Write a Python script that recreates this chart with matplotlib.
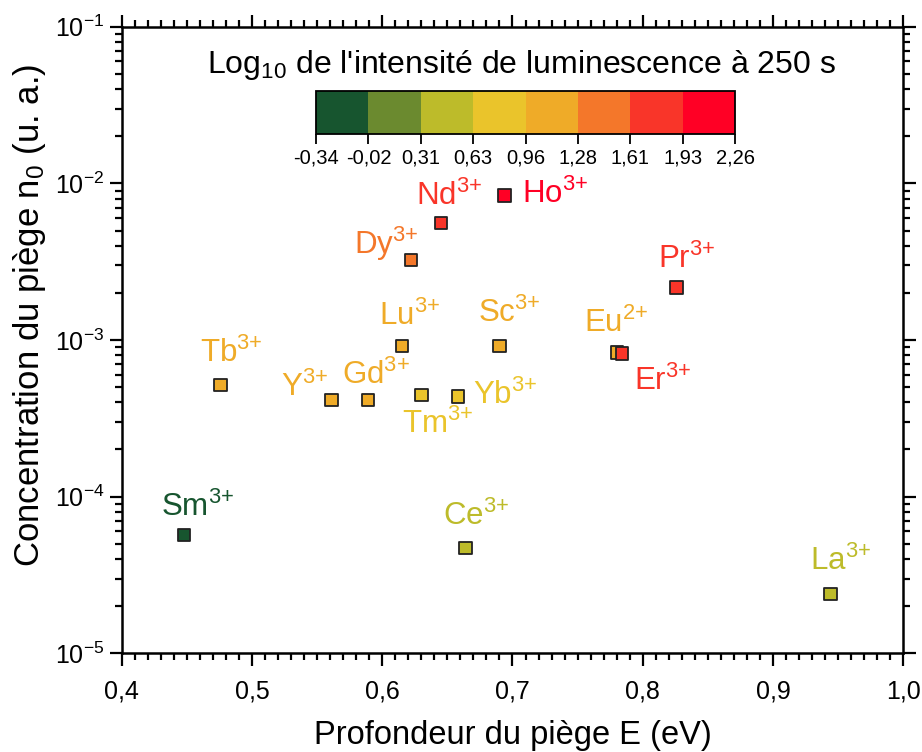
import matplotlib
matplotlib.use("Agg")
import matplotlib.pyplot as plt
from matplotlib.colors import ListedColormap, BoundaryNorm
from matplotlib.cm import ScalarMappable
from matplotlib.ticker import FuncFormatter, LogLocator, MultipleLocator, NullFormatter

plt.rcParams['font.family'] = ['Liberation Sans', 'DejaVu Sans']
plt.rcParams['mathtext.fontset'] = 'custom'
plt.rcParams['mathtext.rm'] = 'Liberation Sans'
plt.rcParams['mathtext.it'] = 'Liberation Sans:italic'
plt.rcParams['mathtext.bf'] = 'Liberation Sans:bold'

# ---- data ----
ions = ['Sm', 'Ce', 'La', 'Tb', 'Y', 'Gd', 'Tm', 'Yb', 'Lu', 'Sc',
        'Dy', 'Nd', 'Ho', 'Pr', 'Eu', 'Er']
charges = ['3+', '3+', '3+', '3+', '3+', '3+', '3+', '3+', '3+', '3+',
           '3+', '3+', '3+', '3+', '2+', '3+']
depth_eV = [0.448, 0.664, 0.944, 0.476, 0.561, 0.589, 0.630, 0.658, 0.615, 0.690,
            0.622, 0.645, 0.694, 0.826, 0.780, 0.784]
n0 = [5.69e-5, 4.72e-5, 2.40e-5, 5.14e-4, 4.14e-4, 4.14e-4, 4.44e-4, 4.35e-4, 9.16e-4, 9.16e-4,
      3.24e-3, 5.56e-3, 8.34e-3, 2.17e-3, 8.30e-4, 8.22e-4]
log_intensity = [-0.20, 0.45, 0.40, 1.10, 1.05, 1.15, 0.80, 0.75, 1.20, 1.10,
                 1.45, 1.75, 2.10, 1.70, 1.20, 1.80]
# label offsets (pixels) relative to marker: left edge, vertical centre
label_dx = [-23, -23, -20, -21, -50, -26, -19, 15, -23, -21, -57, -25, 17, -19, -33, 12]
label_dy = [28, 31, 32, 32, 13, 25, -29, 1, 30, 33, 16, 27, 1, 28, 29, -28]

cbar_levels = [-0.34, -0.02, 0.31, 0.63, 0.96, 1.28, 1.61, 1.93, 2.26]
cbar_colors = ['#17552f', '#6b8a2f', '#bdbb2a', '#eac42b', '#efab28',
               '#f4772a', '#f93529', '#ff0025']

x_ticks = [0.4, 0.5, 0.6, 0.7, 0.8, 0.9, 1.0]

# ---- figure ----
fig = plt.figure(figsize=(9.22, 7.52), dpi=100)
ax = fig.add_axes([121.7 / 922, 1 - 653.3 / 752, (903.3 - 121.7) / 922, (653.3 - 26.7) / 752])

cmap = ListedColormap(cbar_colors)
norm = BoundaryNorm(cbar_levels, cmap.N)

ax.scatter(depth_eV, n0, c=log_intensity, cmap=cmap, norm=norm, marker='s', s=80,
           edgecolors='#222222', linewidths=1.3, zorder=3)

for name, ch, x, y, v, dx, dy in zip(ions, charges, depth_eV, n0, log_intensity, label_dx, label_dy):
    ax.annotate(name + r'$^{\text{' + ch + '}}$', (x, y), xytext=(dx, dy),
                textcoords='offset pixels', ha='left', va='center',
                fontsize=22.5, color=cmap(norm(v)), zorder=4)

ax.set_yscale('log')
ax.set_xlim(0.4, 1.0)
ax.set_ylim(1e-5, 1e-1)
ax.set_xticks(x_ticks)
ax.xaxis.set_major_formatter(FuncFormatter(lambda v, p: f"{v:.1f}".replace('.', ',')))
ax.xaxis.set_minor_locator(MultipleLocator(0.01))
ax.yaxis.set_major_locator(LogLocator(base=10, numticks=10))
ax.yaxis.set_minor_locator(LogLocator(base=10, subs=range(2, 10), numticks=20))
ax.yaxis.set_minor_formatter(NullFormatter())

ax.tick_params(which='both', direction='out', top=True, right=True, labelsize=18, width=1.6, color='black')
ax.tick_params(which='major', length=9)
ax.tick_params(which='minor', length=5)
ax.tick_params(axis='x', pad=10)
for sp in ax.spines.values():
    sp.set_linewidth(1.8)

ax.set_xlabel('Profondeur du piège E (eV)', fontsize=23.5, labelpad=12)
ax.set_ylabel('Concentration du piège n$_0$ (u. a.)', fontsize=25)
ax.yaxis.set_label_coords(-0.094, 0.54)

# ---- colorbar ----
cax = fig.add_axes([316 / 922, 1 - 134.3 / 752, 419 / 922, 43.6 / 752])
sm = ScalarMappable(norm=norm, cmap=cmap)
cb = fig.colorbar(sm, cax=cax, orientation='horizontal', ticks=cbar_levels)
cb.ax.xaxis.set_major_formatter(FuncFormatter(lambda v, p: f"{v:.2f}".replace('.', ',')))
cb.ax.tick_params(labelsize=14.5, length=7, width=1.3, direction='out')
cb.ax.minorticks_off()
cb.outline.set_linewidth(1.3)
fig.text(521 / 922, 1 - 72.7 / 752, "Log$_{10}$ de l'intensité de luminescence à 250 s",
         ha='center', va='baseline', fontsize=23)

fig.savefig('out.png', dpi=100)
